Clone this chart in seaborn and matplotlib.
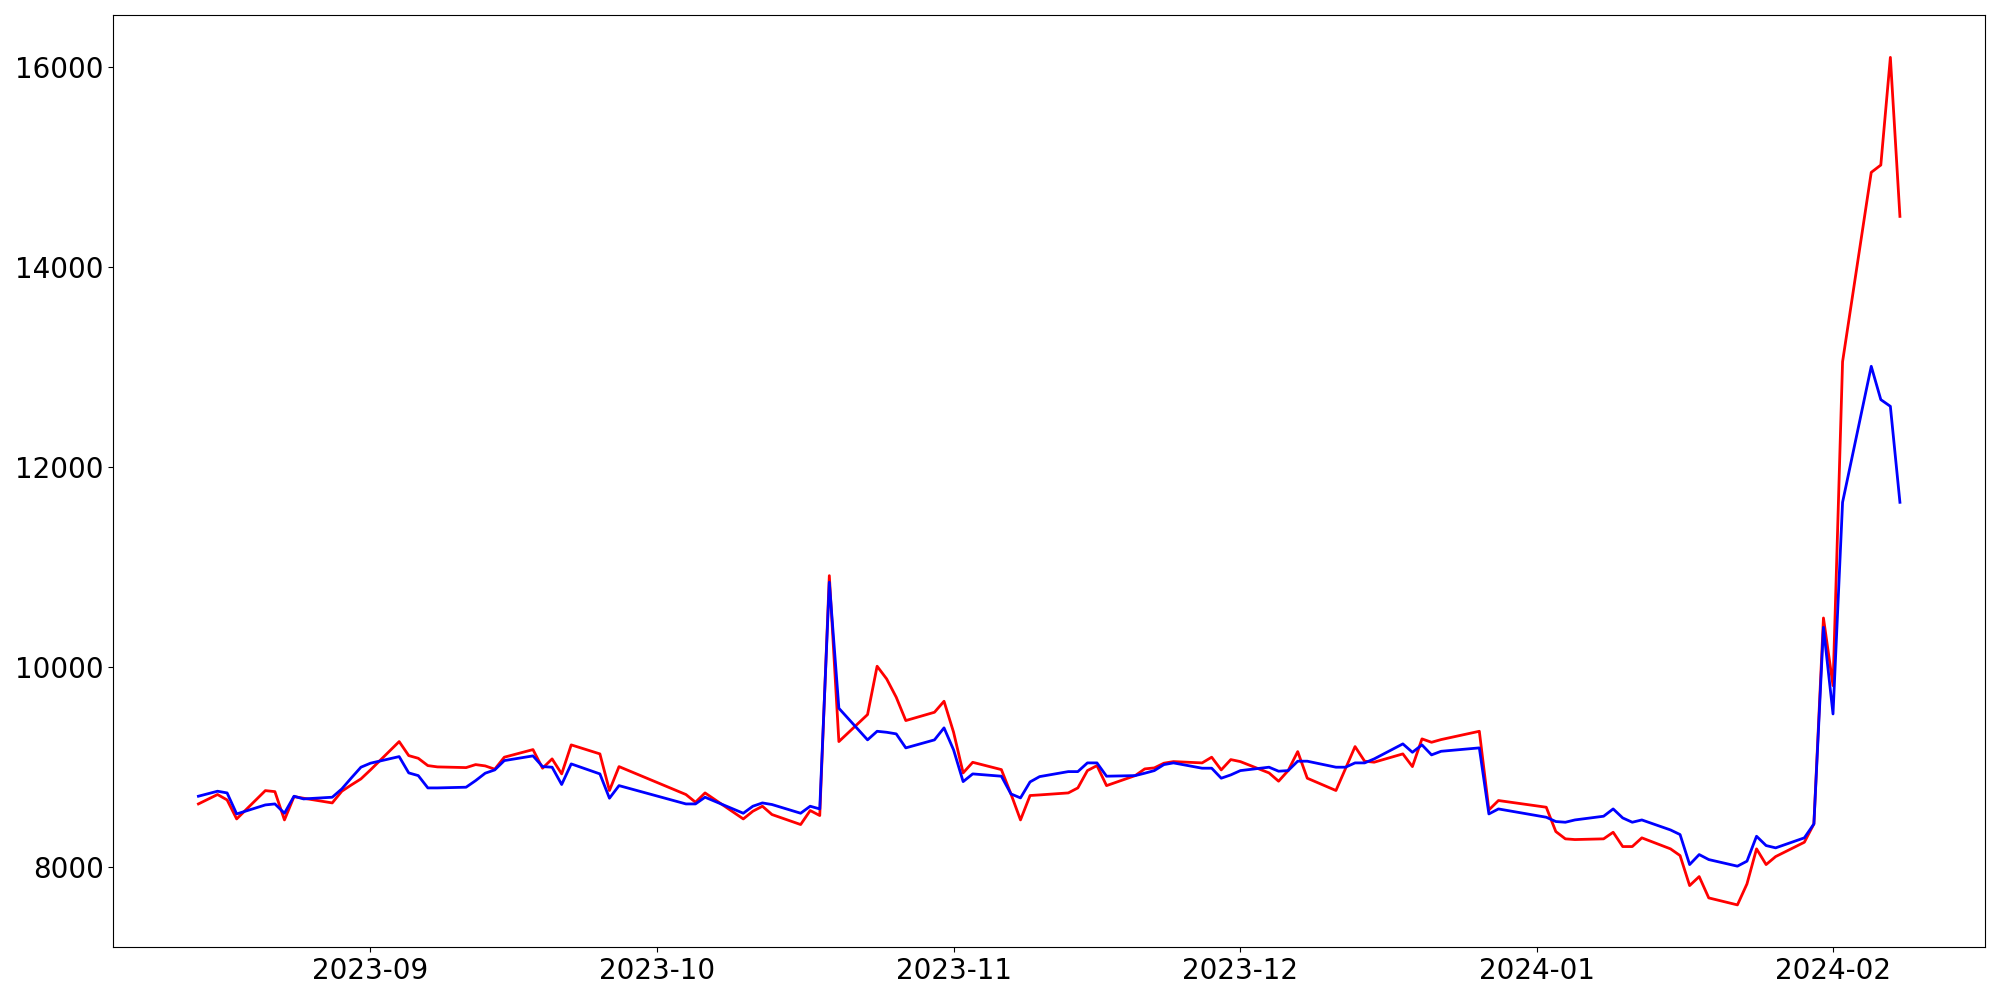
import numpy as np
import pandas as pd
import seaborn as sns
import matplotlib
matplotlib.use('Agg')
import matplotlib.pyplot as plt

# trading days (Korean exchange calendar, holidays skipped)
holidays = ['2023-08-15', '2023-09-28', '2023-09-29', '2023-10-02', '2023-10-03',
            '2023-10-09', '2023-12-25', '2023-12-29', '2024-01-01']
dates = pd.bdate_range('2023-08-14', '2024-02-08', freq='C', holidays=holidays)

# values, month by month
red_aug = [8634, 8728, 8674, 8484, 8767, 8757, 8474, 8707, 8691, 8644, 8761, 8824, 8884]
red_sep = [8974, 9257, 9117, 9090, 9017, 9004, 8997, 9027, 9014, 8981, 9101, 9177, 8991,
           9084, 8934, 9224, 9134, 8768, 9007]
red_oct = [8728, 8651, 8744, 8484, 8561, 8611, 8528, 8428, 8568, 8518, 10915, 9257, 9527,
           10010, 9883, 9700, 9467, 9550, 9660]
red_nov = [9350, 8944, 9050, 8977, 8734, 8474, 8718, 8724, 8744, 8794, 8967, 9017, 8817,
           8917, 8984, 8994, 9041, 9057, 9044, 9101, 8974, 9077]
red_dec = [9057, 8944, 8861, 8967, 9157, 8891, 8768, 8987, 9207, 9061, 9051, 9134, 9007,
           9284, 9250, 9277, 9360, 8574, 8668]
red_jan = [8601, 8358, 8285, 8278, 8285, 8351, 8208, 8208, 8295, 8185, 8118, 7818, 7908,
           7695, 7625, 7835, 8185, 8028, 8108, 8251, 8434, 10492]
red_feb = [9816, 13053, 14945, 15018, 16094, 14505]

blue_aug = [8711, 8761, 8744, 8534, 8624, 8634, 8541, 8711, 8684, 8701, 8784, 8894, 9001]
blue_sep = [9041, 9107, 8944, 8917, 8794, 8794, 8801, 8867, 8941, 8974, 9067, 9114, 9007,
            9001, 8828, 9034, 8934, 8691, 8817]
blue_oct = [8634, 8634, 8701, 8541, 8611, 8644, 8628, 8541, 8611, 8584, 10849, 9590, 9274,
            9360, 9350, 9334, 9194, 9274, 9394]
blue_nov = [9174, 8857, 8934, 8911, 8734, 8694, 8854, 8907, 8957, 8957, 9044, 9044, 8911,
            8917, 8941, 8967, 9027, 9044, 8991, 8991, 8891, 8924]
blue_dec = [8967, 9001, 8961, 8967, 9061, 9061, 9001, 9001, 9044, 9044, 9084, 9234, 9150,
            9224, 9124, 9160, 9194, 8534, 8584]
blue_jan = [8501, 8458, 8451, 8474, 8511, 8584, 8494, 8451, 8474, 8374, 8328, 8028, 8128,
            8078, 8012, 8062, 8311, 8218, 8195, 8295, 8434, 10399]
blue_feb = [9533, 11648, 13007, 12674, 12607, 11648]

red = red_aug + red_sep + red_oct + red_nov + red_dec + red_jan + red_feb
blue = blue_aug + blue_sep + blue_oct + blue_nov + blue_dec + blue_jan + blue_feb

df = pd.DataFrame({'date': dates, 'red': red, 'blue': blue})

fig, ax = plt.subplots(figsize=(20, 10), dpi=100)
sns.lineplot(data=df, x='date', y='red', color='red', linewidth=2, ax=ax)
sns.lineplot(data=df, x='date', y='blue', color='blue', linewidth=2, ax=ax)
ax.set_xlabel('')
ax.set_ylabel('')
ax.tick_params(axis='both', labelsize=20)
plt.tight_layout()
plt.savefig('out.png')
